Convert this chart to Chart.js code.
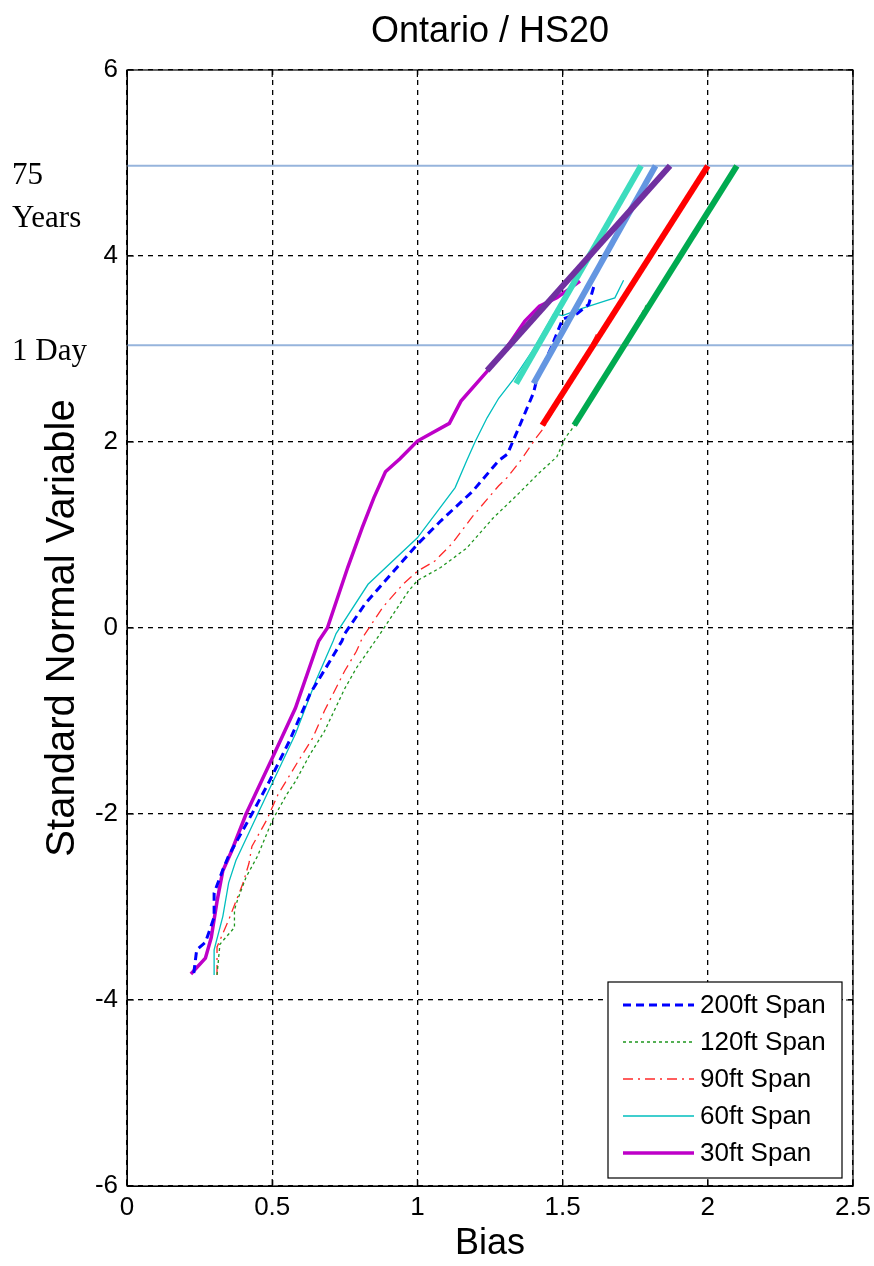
<!DOCTYPE html>
<html>
<head>
<meta charset="utf-8">
<script src="https://cdn.jsdelivr.net/npm/chart.js@4"></script>
<style>
  body { margin: 0; background: #fff; }
  canvas { display: block; }
</style>
</head>
<body>
<canvas id="mycanvas" width="874" height="1266"></canvas>
<script>
var span200X = [0.23,0.24,0.27,0.30,0.30,0.33,0.35,0.43,0.49,0.56,0.63,0.70,0.74,0.75,0.82,0.89,1.00,1.08,1.19,1.28,1.31,1.35,1.40,1.41,1.46,1.50,1.55,1.59,1.61];
var span200Y = [-3.71,-3.46,-3.38,-3.11,-2.85,-2.60,-2.45,-2.00,-1.65,-1.21,-0.71,-0.35,-0.14,-0.06,0.26,0.51,0.90,1.15,1.47,1.80,1.87,2.16,2.53,2.66,3.01,3.32,3.38,3.48,3.70];

var span120X = [0.31,0.32,0.37,0.37,0.38,0.41,0.45,0.50,0.55,0.58,0.63,0.68,0.75,0.79,0.87,0.97,1.00,1.08,1.17,1.26,1.35,1.42,1.48,1.51,1.53,1.60,1.70,1.79];
var span120Y = [-3.73,-3.40,-3.22,-3.03,-2.93,-2.68,-2.45,-2.07,-1.79,-1.65,-1.36,-1.11,-0.65,-0.43,-0.07,0.40,0.51,0.65,0.86,1.18,1.45,1.67,1.84,2.05,2.13,2.45,2.98,3.48];

var span90X = [0.31,0.31,0.35,0.40,0.42,0.43,0.48,0.52,0.59,0.64,0.68,0.75,0.79,0.81,0.88,0.95,1.00,1.06,1.12,1.19,1.28,1.31,1.36,1.41,1.43,1.50,1.56,1.62];
var span90Y = [-3.73,-3.43,-3.14,-2.74,-2.53,-2.35,-2.07,-1.79,-1.43,-1.18,-0.89,-0.46,-0.25,-0.11,0.22,0.47,0.61,0.72,0.91,1.20,1.53,1.62,1.82,2.05,2.13,2.50,2.80,3.18];

var span60X = [0.30,0.30,0.33,0.35,0.375,0.45,0.58,0.65,0.71,0.72,0.83,1.00,1.07,1.13,1.17,1.20,1.24,1.28,1.33,1.40,1.47,1.50,1.57,1.65,1.68,1.71];
var span60Y = [-3.73,-3.46,-3.10,-2.74,-2.50,-2.00,-1.14,-0.57,-0.14,-0.06,0.47,0.97,1.26,1.51,1.80,2.01,2.26,2.47,2.67,3.00,3.38,3.36,3.44,3.52,3.55,3.74];

var span30X = [0.22,0.27,0.29,0.31,0.33,0.36,0.41,0.50,0.58,0.66,0.69,0.76,0.81,0.85,0.89,0.94,1.00,1.11,1.15,1.24,1.30,1.37,1.42,1.48,1.56];
var span30Y = [-3.72,-3.55,-3.33,-2.94,-2.61,-2.40,-2.00,-1.40,-0.86,-0.14,0.00,0.65,1.08,1.40,1.68,1.82,2.01,2.20,2.44,2.76,2.98,3.30,3.46,3.55,3.73];

// fitted tail lines
var fit30X = [1.24,1.87],  fit30Y = [2.77,4.97];
var fit60X = [1.34,1.77],  fit60Y = [2.63,4.97];
var fit200X = [1.40,1.82], fit200Y = [2.63,4.97];
var fit90X = [1.43,2.00],  fit90Y = [2.18,4.97];
var fit120X = [1.54,2.10], fit120Y = [2.18,4.97];

// reference levels
var refX = [0, 2.5];
var ref75Years = 4.97;
var ref1Day = 3.04;

var xTicks = [0, 0.5, 1, 1.5, 2, 2.5];
var yTicks = [-6, -4, -2, 0, 2, 4, 6];

var legendLabels = ['200ft Span', '120ft Span', '90ft Span', '60ft Span', '30ft Span'];

function pts(xs, ys) {
    return xs.map(function (x, i) { return { x: x, y: ys[i] }; });
}

function line(label, xs, ys, color, width, dash, order) {
    return {
        label: label,
        data: pts(xs, ys),
        showLine: true,
        borderColor: color,
        backgroundColor: color,
        borderWidth: width,
        borderDash: dash,
        pointRadius: 0,
        tension: 0,
        order: order
    };
}

var datasets = [
    line(legendLabels[0], span200X, span200Y, '#0000ff', 3, [8, 5], 2),
    line(legendLabels[1], span120X, span120Y, 'rgb(30,150,30)', 1.3, [3, 3], 2),
    line(legendLabels[2], span90X, span90Y, 'rgb(255,40,40)', 1.3, [10, 5, 2, 5], 2),
    line(legendLabels[3], span60X, span60Y, 'rgb(0,190,190)', 1.3, [], 2),
    line(legendLabels[4], span30X, span30Y, 'rgb(190,0,200)', 3.5, [], 2),
    line('fit30', fit30X, fit30Y, 'rgb(112,48,160)', 6, [], 1),
    line('fit60', fit60X, fit60Y, 'rgb(60,220,190)', 6, [], 1),
    line('fit200', fit200X, fit200Y, 'rgb(100,150,225)', 6, [], 1),
    line('fit90', fit90X, fit90Y, 'rgb(255,0,0)', 6, [], 1),
    line('fit120', fit120X, fit120Y, 'rgb(0,170,80)', 6, [], 1),
    line('75 Years', refX, [ref75Years, ref75Years], 'rgb(150,180,220)', 2, [], 3),
    line('1 Day', refX, [ref1Day, ref1Day], 'rgb(150,180,220)', 2, [], 3)
];

var SANS = 'Arial, "Liberation Sans", Helvetica, sans-serif';
var SERIF = '"Times New Roman", "Liberation Serif", serif';

var decor = {
    id: 'decor',
    afterDraw: function (chart) {
        var ctx = chart.ctx;
        var a = chart.chartArea;
        var xs = chart.scales.x, ys = chart.scales.y;
        ctx.save();

        // axes box and inward ticks
        ctx.strokeStyle = '#000';
        ctx.lineWidth = 1.2;
        ctx.setLineDash([]);
        ctx.strokeRect(a.left, a.top, a.right - a.left, a.bottom - a.top);
        ctx.beginPath();
        xTicks.forEach(function (v) {
            var px = xs.getPixelForValue(v);
            ctx.moveTo(px, a.bottom); ctx.lineTo(px, a.bottom - 7);
            ctx.moveTo(px, a.top); ctx.lineTo(px, a.top + 7);
        });
        yTicks.forEach(function (v) {
            var py = ys.getPixelForValue(v);
            ctx.moveTo(a.left, py); ctx.lineTo(a.left + 7, py);
            ctx.moveTo(a.right, py); ctx.lineTo(a.right - 7, py);
        });
        ctx.stroke();

        // titles
        ctx.fillStyle = '#000';
        ctx.textAlign = 'center';
        ctx.textBaseline = 'middle';
        ctx.font = '36px ' + SANS;
        ctx.fillText('Ontario / HS20', (a.left + a.right) / 2, 32);
        ctx.fillText('Bias', (a.left + a.right) / 2, 1244);
        ctx.save();
        ctx.translate(63, (a.top + a.bottom) / 2);
        ctx.rotate(-Math.PI / 2);
        ctx.font = '40px ' + SANS;
        ctx.fillText('Standard Normal Variable', 0, 0);
        ctx.restore();

        // reference level labels
        ctx.textAlign = 'left';
        ctx.textBaseline = 'alphabetic';
        ctx.font = '31px ' + SERIF;
        var p75 = ys.getPixelForValue(ref75Years);
        var p1 = ys.getPixelForValue(ref1Day);
        ctx.fillText('75', 12, p75 + 18);
        ctx.fillText('Years', 12, p75 + 61);
        ctx.fillText('1 Day', 12, p1 + 15);

        // legend box
        var lx = 608, ly = 982, lw = 234, lh = 196;
        ctx.fillStyle = '#fff';
        ctx.fillRect(lx, ly, lw, lh);
        ctx.strokeStyle = '#000';
        ctx.lineWidth = 1.2;
        ctx.strokeRect(lx, ly, lw, lh);
        ctx.font = '26px ' + SANS;
        ctx.textBaseline = 'middle';
        for (var i = 0; i < legendLabels.length; i++) {
            var ds = chart.data.datasets[i];
            var cy = 1005 + i * 37;
            ctx.beginPath();
            ctx.strokeStyle = ds.borderColor;
            ctx.lineWidth = ds.borderWidth;
            ctx.setLineDash(ds.borderDash || []);
            ctx.moveTo(623, cy);
            ctx.lineTo(694, cy);
            ctx.stroke();
            ctx.setLineDash([]);
            ctx.fillStyle = '#000';
            ctx.fillText(legendLabels[i], 700, cy + 1);
        }
        ctx.restore();
    }
};

var graphTarget = document.getElementById('mycanvas');

var chart = new Chart(graphTarget, {
    type: 'scatter',
    data: { datasets: datasets },
    options: {
        responsive: false,
        animation: false,
        layout: { padding: { top: 70, right: 21, left: 0, bottom: 0 } },
        plugins: {
            legend: { display: false },
            tooltip: { enabled: false },
            title: { display: false }
        },
        scales: {
            x: {
                type: 'linear',
                min: 0,
                max: 2.5,
                afterFit: function (s) { s.height = 80; s.paddingRight = 0; },
                afterBuildTicks: function (s) { s.ticks = xTicks.map(function (v) { return { value: v }; }); },
                ticks: {
                    color: '#000', font: { size: 26, family: SANS }, padding: 6, maxRotation: 0,
                    callback: function (v) { return String(v); }
                },
                grid: { color: '#000', lineWidth: 1.3, drawTicks: false },
                border: { display: true, color: '#000', dash: [5, 5] }
            },
            y: {
                type: 'linear',
                min: -6,
                max: 6,
                afterFit: function (s) { s.width = 127; },
                afterBuildTicks: function (s) { s.ticks = yTicks.map(function (v) { return { value: v }; }); },
                ticks: {
                    color: '#000', font: { size: 26, family: SANS }, padding: 9,
                    callback: function (v) { return String(v); }
                },
                grid: { color: '#000', lineWidth: 1.3, drawTicks: false },
                border: { display: true, color: '#000', dash: [5, 5] }
            }
        }
    },
    plugins: [decor]
});
</script>
</body>
</html>
